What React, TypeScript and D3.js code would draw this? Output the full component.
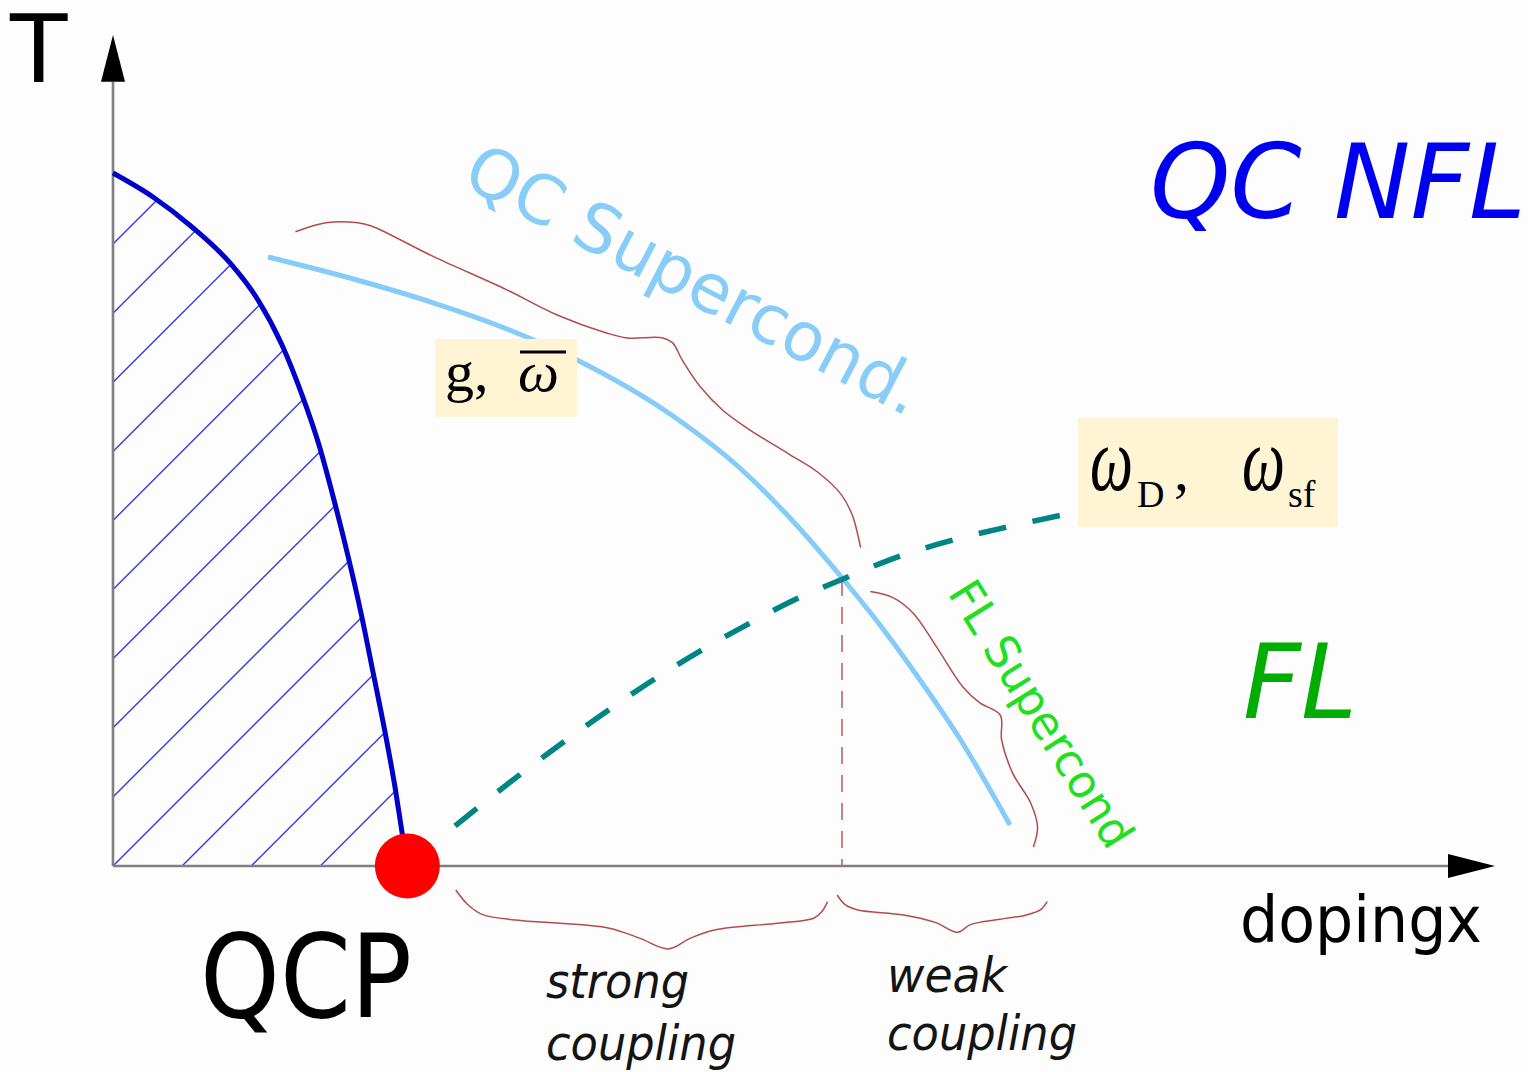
import React from 'react';
import * as d3 from 'd3';

const W = 1528;
const H = 1072;

// Doping x runs 0..1 along the horizontal axis, temperature T runs 0..1 up the vertical axis.
// Superconducting dome of the competing (ordered) phase, ending at the QCP.
const tcDome: [number, number][] = [
  [0.0, 0.8359], [0.02894, 0.807], [0.05716, 0.7708], [0.08466, 0.7274], [0.10492, 0.6828],
  [0.12229, 0.6285], [0.13676, 0.5682], [0.14906, 0.5078], [0.15991, 0.4415], [0.17004, 0.3739],
  [0.17945, 0.3052], [0.18813, 0.234], [0.19682, 0.1616], [0.20405, 0.0953], [0.20912, 0.041],
  [0.21201, 0.0121],
];

// Quantum-critical superconducting Tc
const qcSupercond: [number, number][] = [
  [0.11216, 0.7346], [0.17656, 0.7069], [0.23227, 0.6791], [0.28509, 0.6478], [0.33575, 0.6104],
  [0.40521, 0.5428], [0.45514, 0.4777], [0.48987, 0.4198], [0.52822, 0.3462], [0.55499, 0.2907],
  [0.58394, 0.2244], [0.61288, 0.1532], [0.64906, 0.0495],
];

// Crossover scale (omega_D vs omega_sf)
const crossoverScale: [number, number][] = [
  [0.24747, 0.0483], [0.28003, 0.0917], [0.31621, 0.1375], [0.35239, 0.1809], [0.38857, 0.222],
  [0.42475, 0.2593], [0.46093, 0.2931], [0.48987, 0.3185], [0.52822, 0.3462], [0.56946, 0.3739],
  [0.60781, 0.3932], [0.64689, 0.4089], [0.68669, 0.4234],
];

const qcpDoping = 0.213;
const crossoverDoping = 0.5275;
const crossoverT = 0.3462;
const HATCH_STEP = 0.05;

// Curly braces grouping the regimes
const braceQC: [number, number][] = [
  [0.132, 0.765], [0.154, 0.776], [0.177, 0.776], [0.187, 0.772], [0.232, 0.735],
  [0.285, 0.695], [0.321, 0.665], [0.357, 0.643], [0.372, 0.637], [0.398, 0.637],
  [0.405, 0.631], [0.412, 0.61], [0.425, 0.578], [0.441, 0.55], [0.459, 0.528],
  [0.49, 0.496], [0.51, 0.475], [0.527, 0.448], [0.535, 0.423], [0.539, 0.399], [0.541, 0.384],
];
const braceFL: [number, number][] = [
  [0.548, 0.331], [0.564, 0.324], [0.579, 0.305], [0.596, 0.264], [0.615, 0.216],
  [0.627, 0.197], [0.642, 0.182], [0.643, 0.152], [0.651, 0.112], [0.664, 0.076],
  [0.669, 0.047], [0.666, 0.023],
];
const braceStrong: [number, number][] = [
  [0.248, -0.029], [0.257, -0.047], [0.268, -0.059], [0.291, -0.065], [0.313, -0.068],
  [0.359, -0.075], [0.381, -0.087], [0.402, -0.1], [0.418, -0.087], [0.436, -0.077],
  [0.481, -0.069], [0.507, -0.063], [0.513, -0.055], [0.517, -0.043],
];
const braceWeak: [number, number][] = [
  [0.524, -0.035], [0.53, -0.047], [0.539, -0.053], [0.572, -0.059], [0.595, -0.068],
  [0.611, -0.08], [0.62, -0.071], [0.627, -0.068], [0.661, -0.059], [0.671, -0.053],
  [0.676, -0.043],
];

const SANS = 'DejaVu Sans';
const SERIF = 'Liberation Serif';

export default function App() {
  const x = d3.scaleLinear().domain([0, 1]).range([113, 1495]);
  const y = d3.scaleLinear().domain([0, 1]).range([866, 37]);

  const smoothX = d3
    .line<[number, number]>()
    .x((d) => x(d[0]))
    .y((d) => y(d[1]))
    .curve(d3.curveMonotoneX);

  const brace = d3
    .line<[number, number]>()
    .x((d) => x(d[0]))
    .y((d) => y(d[1]))
    .curve(d3.curveCatmullRom.alpha(0.5));

  const domePath = smoothX(tcDome) || '';
  const clipD = `${domePath}L${x(qcpDoping)},${y(0)}L${x(0)},${y(0)}Z`;

  const hatch = d3.range(-14, 5).map((k) => {
    const x0 = x(k * HATCH_STEP);
    const y0 = y(0);
    return { k, x1: x0, y1: y0, x2: x0 + 1000, y2: y0 - 1000 };
  });

  const xArrowBase = 0.966;
  const yArrowBase = 0.946;

  const braceColor = '#b24c4c';
  const braces = [braceQC, braceFL, braceStrong, braceWeak];

  return (
    <svg
      width={W}
      height={H}
      viewBox={`0 0 ${W} ${H}`}
      style={{ position: 'absolute', left: 0, top: 0, background: '#fff' }}
    >
      <defs>
        <clipPath id="dome-clip">
          <path d={clipD} />
        </clipPath>
      </defs>
      <rect x={0} y={0} width={W} height={H} fill="#fdfdfd" />

      {/* hatched ordered phase */}
      <g clipPath="url(#dome-clip)">
        {hatch.map((h) => (
          <line key={h.k} x1={h.x1} y1={h.y1} x2={h.x2} y2={h.y2} stroke="#3838e2" strokeWidth={1.4} />
        ))}
      </g>

      {/* axes */}
      <line x1={x(0)} y1={y(0)} x2={x(xArrowBase)} y2={y(0)} stroke="#808080" strokeWidth={2.6} />
      <line x1={x(0)} y1={y(0)} x2={x(0)} y2={y(yArrowBase)} stroke="#808080" strokeWidth={2.6} />
      <path
        d={`M${x(1)},${y(0)}L${x(xArrowBase)},${y(0) - 12}L${x(xArrowBase)},${y(0) + 12}Z`}
        fill="#000"
      />
      <path
        d={`M${x(0)},${y(1) - 2}L${x(0) - 12},${y(yArrowBase)}L${x(0) + 12},${y(yArrowBase)}Z`}
        fill="#000"
      />

      {/* crossover marker */}
      <line
        x1={x(crossoverDoping)}
        y1={y(crossoverT)}
        x2={x(crossoverDoping)}
        y2={y(0)}
        stroke="#c06464"
        strokeWidth={1.6}
        strokeDasharray="17 11"
      />

      {/* curves */}
      <path d={domePath} fill="none" stroke="#0000c8" strokeWidth={5} />
      <path d={smoothX(qcSupercond) || ''} fill="none" stroke="#87cbf8" strokeWidth={5} />
      <path
        d={smoothX(crossoverScale) || ''}
        fill="none"
        stroke="#008484"
        strokeWidth={5.5}
        strokeDasharray="28 27"
      />

      {braces.map((b, i) => (
        <path key={i} d={brace(b) || ''} fill="none" stroke={braceColor} strokeWidth={1.5} />
      ))}

      {/* scale labels */}
      <rect x={435} y={339} width={142} height={78} fill="#fff4d4" />
      <text x={445} y={391} fontFamily={SERIF} fontSize={58} fill="#000">g,</text>
      <text x={518} y={391} fontFamily={SERIF} fontSize={58} fontStyle="italic" fill="#000">ω</text>
      <line x1={520} y1={352} x2={566} y2={352} stroke="#000" strokeWidth={3} />

      <rect x={1078} y={418} width={260} height={109} fill="#fff4d4" />
      <text x={1090} y={490} fontFamily={SERIF} fontSize={90} fontStyle="italic" fill="#000"
        textLength={43} lengthAdjust="spacingAndGlyphs">ω</text>
      <text x={1137} y={507} fontFamily={SERIF} fontSize={38} fill="#000">D</text>
      <text x={1174} y={490} fontFamily={SERIF} fontSize={60} fill="#000">,</text>
      <text x={1242} y={490} fontFamily={SERIF} fontSize={90} fontStyle="italic" fill="#000"
        textLength={43} lengthAdjust="spacingAndGlyphs">ω</text>
      <text x={1288} y={507} fontFamily={SERIF} fontSize={38} fill="#000">sf</text>

      {/* region labels */}
      <text x={1150} y={218} fontFamily={SANS} fontSize={103} fontStyle="italic" fill="#0000f0"
        textLength={376} lengthAdjust="spacingAndGlyphs">QC NFL</text>
      <text x={1243} y={718} fontFamily={SANS} fontSize={103} fontStyle="italic" fill="#00ad00"
        textLength={114} lengthAdjust="spacingAndGlyphs">FL</text>
      <text transform="translate(460,184) rotate(27.5)" fontFamily={SANS} fontSize={68} fill="#88ccf8"
        textLength={505} lengthAdjust="spacingAndGlyphs">QC Supercond.</text>
      <text transform="translate(947,593) rotate(58)" fontFamily={SANS} fontSize={46} fill="#1ee01e"
        textLength={305} lengthAdjust="spacingAndGlyphs">FL Supercond</text>

      {/* axis titles */}
      <text x={10} y={82} fontFamily={SANS} fontSize={94} fill="#000">T</text>
      <text x={1240} y={942} fontFamily={SANS} fontSize={64} fill="#000"
        textLength={242} lengthAdjust="spacingAndGlyphs">dopingx</text>
      <text x={200} y={1017} fontFamily={SANS} fontSize={115} fill="#000"
        textLength={212} lengthAdjust="spacingAndGlyphs">QCP</text>

      <text x={546} y={998} fontFamily={SANS} fontSize={48} fontStyle="italic" fill="#141414"
        textLength={143} lengthAdjust="spacingAndGlyphs">strong</text>
      <text x={546} y={1060} fontFamily={SANS} fontSize={48} fontStyle="italic" fill="#141414"
        textLength={190} lengthAdjust="spacingAndGlyphs">coupling</text>
      <text x={887} y={992} fontFamily={SANS} fontSize={48} fontStyle="italic" fill="#141414"
        textLength={120} lengthAdjust="spacingAndGlyphs">weak</text>
      <text x={887} y={1050} fontFamily={SANS} fontSize={48} fontStyle="italic" fill="#141414"
        textLength={190} lengthAdjust="spacingAndGlyphs">coupling</text>

      {/* quantum critical point */}
      <circle cx={x(qcpDoping)} cy={y(0)} r={32.5} fill="#ff0000" />
    </svg>
  );
}
